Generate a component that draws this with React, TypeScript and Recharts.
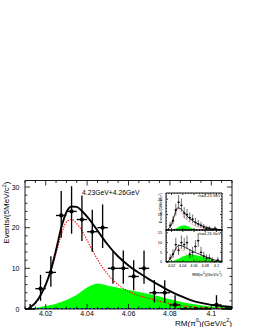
import React from "react";
import {
  Area,
  ComposedChart,
  ErrorBar,
  Line,
  Scatter,
  XAxis,
  YAxis,
} from "recharts";

const FONT = "'Liberation Sans', Arial, Helvetica, sans-serif";

// 5 MeV bins of RM(pi0)
const binCenters = [
  4.0125, 4.0175, 4.0225, 4.0275, 4.0325, 4.0375, 4.0425, 4.0475, 4.0525, 4.0575,
  4.0625, 4.0675, 4.0725, 4.0775, 4.0825, 4.0875, 4.0925, 4.0975, 4.1025, 4.1075,
];
const counts = [0, 5, 9, 23, 24, 22, 19, 20, 10, 10, 8, 10, 4, 4, 1, 0, 0, 0, 1, 0];
const errDown = [0, 3, 3.5, 5.5, 5.5, 5.3, 4.9, 5, 3.8, 3.8, 3.4, 3.8, 2.4, 2.4, 1, 0, 0, 0, 1, 0];
const errUp = [1.2, 3.4, 4, 6, 6.2, 5.9, 5.4, 5.7, 4.4, 4.4, 4, 4.4, 3.1, 3.1, 2.4, 0, 0, 0, 2.4, 0];

// fit curves
const fitX = [
  4.0115, 4.0125, 4.015, 4.0175, 4.02, 4.0225, 4.025, 4.0275, 4.03, 4.0325, 4.035,
  4.0375, 4.04, 4.0425, 4.045, 4.0475, 4.05, 4.055, 4.06, 4.065, 4.07, 4.075, 4.08,
  4.085, 4.09, 4.095, 4.1, 4.105, 4.11,
];
const totalFit = [
  0, 0.4, 1.5, 3.4, 6, 9.6, 14.5, 20, 23.8, 25.2, 25.1, 24.1, 22.7, 21.1, 19.3, 17.5,
  15.8, 12.9, 10.7, 8.9, 7.3, 5.8, 4.4, 3.2, 2.2, 1.5, 1, 0.7, 0.5,
];
const signalFit = [
  0, 0.4, 1.5, 3.3, 5.8, 9.2, 13.6, 18.2, 21.4, 22, 21, 19.2, 16.9, 14.5, 12.2, 10.2,
  8.5, 6, 4.3, 3.3, 2.6, 1.9, 1.3, 0.85, 0.55, 0.35, 0.2, 0.15, 0.1,
];
const bkgFit = [
  0, 0.1, 0.3, 0.5, 0.8, 1, 1.3, 1.7, 2.2, 2.8, 3.5, 4.4, 5.3, 5.9, 6.3, 6.1, 5.7,
  5.2, 4.7, 4.2, 3.7, 3.1, 2.4, 1.8, 1.3, 0.9, 0.6, 0.45, 0.35,
];
const flatX = [4.01, 4.11];
const flatBkg = [0.12, 0.12];

// inset: 4.23 GeV (upper) and 4.26 GeV (lower)
const insetX = [
  4.0115, 4.015, 4.02, 4.025, 4.03, 4.035, 4.04, 4.045, 4.05, 4.055, 4.06, 4.065, 4.07,
  4.075, 4.08, 4.09, 4.1, 4.11,
];
const up_counts = [0, 3, 6, 13, 18, 16, 11, 10, 8, 7, 5, 4, 3, 2, 1, 1, 0, 1, 0, 0];
const up_errDown = [0, 1.7, 2.4, 3.6, 4.2, 4, 3.3, 3.2, 2.8, 2.6, 2.2, 2, 1.7, 1.4, 0.9, 0.9, 0, 0.9, 0, 0];
const up_errUp = [0, 2.3, 3, 4.1, 4.8, 4.5, 3.8, 3.7, 3.3, 3.1, 2.8, 2.6, 2.3, 2, 1.5, 1.5, 0, 1.5, 0, 0];
const up_total = [0, 1, 4, 9.5, 14.3, 14, 12.4, 10.2, 8.2, 6.7, 5.4, 4.3, 3.4, 2.6, 2, 1.1, 0.5, 0.25];
const up_signal = [0, 1, 3.8, 9, 13.2, 12.2, 9.6, 7.3, 5.5, 4.1, 3.1, 2.3, 1.7, 1.3, 0.9, 0.5, 0.25, 0.1];
const up_bkg = [0, 0, 0.2, 0.7, 1.5, 2.4, 3, 2.9, 2.2, 1.3, 0.6, 0.2, 0.05, 0, 0, 0, 0, 0];

const lo_counts = [0, 2, 4, 9, 6, 10, 9, 10, 4, 5, 8, 11, 5, 3, 2, 2, 1, 0, 1, 0];
const lo_errDown = [0, 1.3, 2, 3, 2.4, 3.2, 3, 3.2, 2, 2.2, 2.8, 3.3, 2.2, 1.7, 1.3, 1.3, 0.9, 0, 0.9, 0];
const lo_errUp = [0, 2, 2.6, 3.5, 3, 3.7, 3.5, 3.7, 2.6, 2.8, 3.3, 3.8, 2.8, 2.3, 2, 2, 1.5, 0, 1.5, 0];
const lo_total = [0, 0.8, 2.8, 5.5, 8, 8.6, 8.2, 7.4, 6.6, 5.9, 5.2, 4.6, 4, 3.4, 2.8, 1.7, 0.8, 0.4];
const lo_signal = [0, 0.7, 2.5, 5, 7, 6.8, 5.6, 4.3, 3.2, 2.3, 1.6, 1.1, 0.8, 0.6, 0.4, 0.2, 0.1, 0];
const lo_bkg = [0, 0.1, 0.4, 0.8, 1.4, 2.1, 2.8, 3.4, 3.8, 4, 3.8, 3.5, 3.1, 2.7, 2.2, 1.2, 0.5, 0.2];

// ticks
const xTicks = [
  4.01, 4.015, 4.02, 4.025, 4.03, 4.035, 4.04, 4.045, 4.05, 4.055, 4.06, 4.065, 4.07,
  4.075, 4.08, 4.085, 4.09, 4.095, 4.1, 4.105, 4.11,
];
const xMajors = [4.02, 4.04, 4.06, 4.08, 4.1];
const yTicks = [0, 2, 4, 6, 8, 10, 12, 14, 16, 18, 20, 22, 24, 26, 28, 30];
const yMajors = [0, 10, 20, 30];
const upTicks = [0, 2, 4, 6, 8, 10, 12, 14, 16, 18, 20, 22];
const upMajors = [10, 20];
const loTicks = [0, 1, 2, 3, 4, 5, 6, 7, 8, 9, 10, 11, 12, 13, 14, 15, 16];
const loMajors = [0, 5, 10, 15];

const curve = (xs: number[], ys: number[]) => xs.map((x, i) => ({ x, y: ys[i] }));
const hist = (ys: number[], lo: number[], hi: number[]) =>
  binCenters.map((x, i) => ({ x, y: ys[i], ex: 0.0025, ey: [lo[i], hi[i]] }));

function InTick(props: any) {
  const { x, y, payload, side, majors, len, minorLen, fontSize, gap, labels } = props;
  const v = payload.value;
  const major = majors.some((m: number) => Math.abs(m - v) < 1e-9);
  const L = major ? len : minorLen;
  const lab = labels && major ? String(v) : null;
  const common = { stroke: "#000", strokeWidth: 0.8 };
  if (side === "bottom") {
    const a = y - gap;
    return (
      <g>
        <line x1={x} x2={x} y1={a} y2={a - L} {...common} />
        {lab && (
          <text x={x} y={y + fontSize * 0.78} textAnchor="middle" fontSize={fontSize} fontFamily={FONT} fill="#000">
            {lab}
          </text>
        )}
      </g>
    );
  }
  if (side === "top") {
    const a = y + gap;
    return <line x1={x} x2={x} y1={a} y2={a + L} {...common} />;
  }
  if (side === "left") {
    const a = x + gap;
    return (
      <g>
        <line x1={a} x2={a + L} y1={y} y2={y} {...common} />
        {lab && (
          <text x={x - fontSize * 0.5} y={y + fontSize * 0.36} textAnchor="end" fontSize={fontSize} fontFamily={FONT} fill="#000">
            {lab}
          </text>
        )}
      </g>
    );
  }
  const a = x - gap;
  return <line x1={a} x2={a - L} y1={y} y2={y} {...common} />;
}

type FrameProps = {
  left: number;
  right: number;
  top: number;
  bottom: number;
  yDomain: [number, number];
  yT: number[];
  yM: number[];
  tickLen: number;
  font: number;
  xLabels: boolean;
  points: any[];
  total: any[];
  signal: any[];
  bkg: any[];
  flat?: any[];
  lw: number;
  r: number;
};

function Frame(p: FrameProps) {
  const tk = (side: string, majors: number[], labels: boolean) => (
    <InTick
      side={side}
      majors={majors}
      len={p.tickLen}
      minorLen={p.tickLen / 2}
      fontSize={p.font}
      gap={2}
      labels={labels}
    />
  );
  const axisLine = { stroke: "#000", strokeWidth: 0.9 };
  return (
    <div style={{ position: "absolute", left: 0, top: 0 }}>
      <ComposedChart width={253} height={327} margin={{ top: 0, right: 0, bottom: 0, left: 0 }}>
        <XAxis
          type="number"
          dataKey="x"
          domain={[4.01, 4.11]}
          allowDataOverflow
          ticks={xTicks}
          interval={0}
          height={327 - p.bottom}
          tickSize={0}
          tickMargin={2}
          tickLine={false}
          axisLine={axisLine}
          tick={tk("bottom", xMajors, p.xLabels)}
        />
        <XAxis
          xAxisId="top"
          orientation="top"
          type="number"
          dataKey="x"
          domain={[4.01, 4.11]}
          allowDataOverflow
          ticks={xTicks}
          interval={0}
          height={p.top}
          tickSize={0}
          tickMargin={2}
          tickLine={false}
          axisLine={axisLine}
          tick={tk("top", xMajors, false)}
        />
        <YAxis
          type="number"
          dataKey="y"
          domain={p.yDomain}
          allowDataOverflow
          ticks={p.yT}
          interval={0}
          width={p.left}
          tickSize={0}
          tickMargin={2}
          tickLine={false}
          axisLine={axisLine}
          tick={tk("left", p.yM, true)}
        />
        <YAxis
          yAxisId="right"
          orientation="right"
          type="number"
          dataKey="y"
          domain={p.yDomain}
          allowDataOverflow
          ticks={p.yT}
          interval={0}
          width={253 - p.right}
          tickSize={0}
          tickMargin={2}
          tickLine={false}
          axisLine={axisLine}
          tick={tk("right", p.yM, false)}
        />
        <Area
          data={p.bkg}
          dataKey="y"
          type="monotone"
          fill="#00ff00"
          fillOpacity={1}
          stroke="none"
          baseValue={0}
          dot={false}
          activeDot={false}
          isAnimationActive={false}
        />
        {p.flat && (
          <Line
            data={p.flat}
            dataKey="y"
            stroke="#0000ff"
            strokeWidth={p.lw * 0.6}
            strokeDasharray="2 2"
            dot={false}
            activeDot={false}
            isAnimationActive={false}
          />
        )}
        <Line
          data={p.signal}
          dataKey="y"
          type="monotone"
          stroke="#ff0000"
          strokeWidth={p.lw * 0.6}
          strokeDasharray={`${p.lw * 0.7} ${p.lw * 0.7}`}
          dot={false}
          activeDot={false}
          isAnimationActive={false}
        />
        <Line
          data={p.total}
          dataKey="y"
          type="monotone"
          stroke="#000"
          strokeWidth={p.lw}
          dot={false}
          activeDot={false}
          isAnimationActive={false}
        />
        <Scatter
          data={p.points}
          dataKey="y"
          isAnimationActive={false}
          shape={(s: any) => <circle cx={s.cx} cy={s.cy} r={p.r} fill="#000" />}
        >
          <ErrorBar dataKey="ey" direction="y" width={0} stroke="#000" strokeWidth={p.lw * 0.7} />
          <ErrorBar dataKey="ex" direction="x" width={0} stroke="#000" strokeWidth={p.lw * 0.7} />
        </Scatter>
      </ComposedChart>
    </div>
  );
}

const Sup = ({ c, fs }: { c: string; fs: number }) => (
  <tspan dy={-fs * 0.38} fontSize={fs * 0.68}>
    {c}
  </tspan>
);

export default function App() {
  return (
    <div style={{ position: "absolute", left: 0, top: 0, width: 253, height: 327, background: "#fff" }}>
      <Frame
        left={25}
        right={232}
        top={180.5}
        bottom={309}
        yDomain={[0, 31.6]}
        yT={yTicks}
        yM={yMajors}
        tickLen={5}
        font={7}
        xLabels
        points={hist(counts, errDown, errUp)}
        total={curve(fitX, totalFit)}
        signal={curve(fitX, signalFit)}
        bkg={curve(fitX, bkgFit)}
        flat={curve(flatX, flatBkg)}
        lw={1.9}
        r={2.1}
      />
      <Frame
        left={166}
        right={222}
        top={193}
        bottom={230}
        yDomain={[0, 24]}
        yT={upTicks}
        yM={upMajors}
        tickLen={2}
        font={3.8}
        xLabels={false}
        points={hist(up_counts, up_errDown, up_errUp)}
        total={curve(insetX, up_total)}
        signal={curve(insetX, up_signal)}
        bkg={curve(insetX, up_bkg)}
        lw={0.8}
        r={0.9}
      />
      <Frame
        left={166}
        right={222}
        top={230}
        bottom={262}
        yDomain={[0, 16.5]}
        yT={loTicks}
        yM={loMajors}
        tickLen={2}
        font={3.8}
        xLabels
        points={hist(lo_counts, lo_errDown, lo_errUp)}
        total={curve(insetX, lo_total)}
        signal={curve(insetX, lo_signal)}
        bkg={curve(insetX, lo_bkg)}
        lw={0.8}
        r={0.9}
      />
      <svg width={253} height={327} style={{ position: "absolute", left: 0, top: 0 }} fontFamily={FONT}>
        <text transform="rotate(-90)" x={-181.5} y={9} textAnchor="end" fontSize={8}>
          Events/(5MeV/c<Sup c="2" fs={8} />
          <tspan dy={8 * 0.38}>)</tspan>
        </text>
        <text x={232} y={325.5} textAnchor="end" fontSize={8}>
          RM(π<Sup c="0" fs={8} />
          <tspan dy={8 * 0.38}>)(GeV/c</tspan>
          <Sup c="2" fs={8} />
          <tspan dy={8 * 0.38}>)</tspan>
        </text>
        <text x={82} y={194.5} fontSize={6.8}>
          4.23GeV+4.26GeV
        </text>
        <text transform="rotate(-90)" x={-193} y={162} textAnchor="end" fontSize={3.9}>
          Events/(5MeV/c<Sup c="2" fs={3.9} />
          <tspan dy={3.9 * 0.38}>)</tspan>
        </text>
        <text x={222} y={275.5} textAnchor="end" fontSize={4.2}>
          RM(π<Sup c="0" fs={4.2} />
          <tspan dy={4.2 * 0.38}>)(GeV/c</tspan>
          <Sup c="2" fs={4.2} />
          <tspan dy={4.2 * 0.38}>)</tspan>
        </text>
        <text x={220.5} y={197} textAnchor="end" fontSize={3.9}>
          √s=4.23 GeV
        </text>
        <text x={220.5} y={235} textAnchor="end" fontSize={3.9}>
          √s=4.26 GeV
        </text>
      </svg>
    </div>
  );
}
